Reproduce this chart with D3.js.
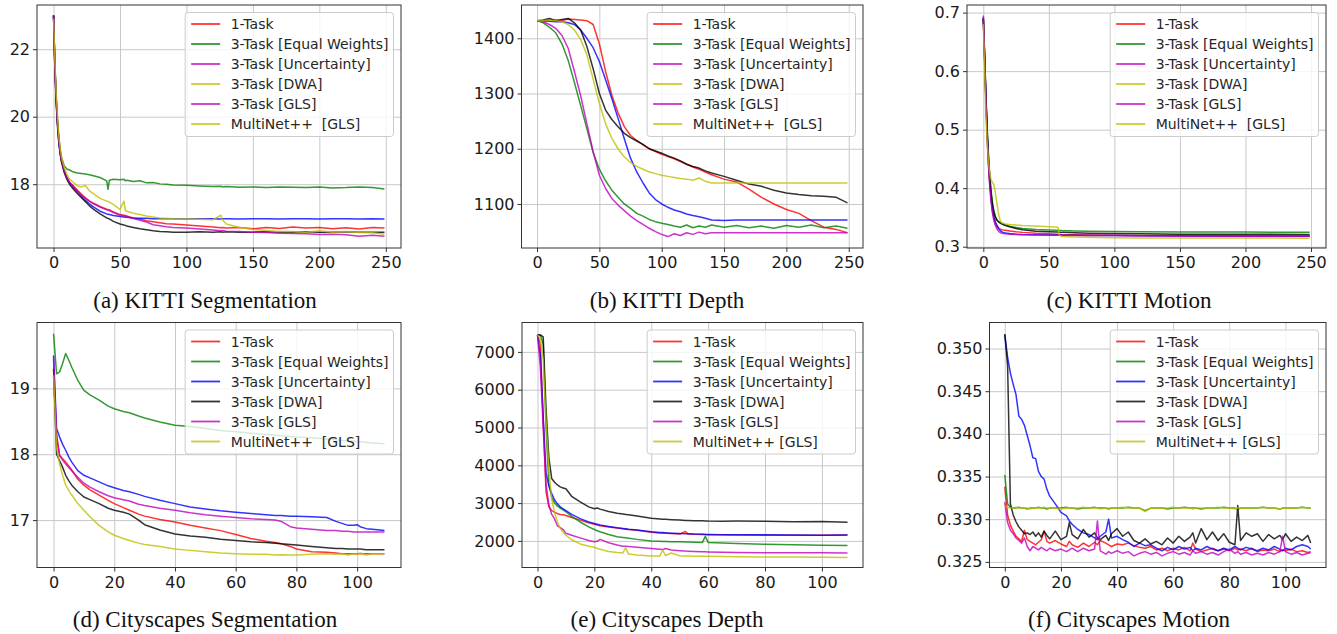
<!DOCTYPE html>
<html>
<head>
<meta charset="utf-8">
<script src="https://cdn.jsdelivr.net/npm/d3@7"></script>
<style>
  body { margin: 0; background: #fff; }
  .tick text { font-family: "DejaVu Sans", sans-serif; font-size: 16px; fill: #1a1a1a; }
  .legend text { font-family: "DejaVu Sans", sans-serif; font-size: 14px; fill: #262626; white-space: pre; }
  .caption { font-family: "Liberation Serif", "Times New Roman", serif; font-size: 23px; fill: #111; }
</style>
</head>
<body>
<svg id="chart" width="1337" height="634"></svg>
<script>
// DATA
const colors = { r: "#ff0000", g: "#008000", b: "#0000ff", k: "#000000", m: "#bf00bf", y: "#bfbf00" };

const labelsTop = ["1-Task", "3-Task [Equal Weights]", "3-Task [Uncertainty]", "3-Task [DWA]", "3-Task [GLS]", "MultiNet++  [GLS]"];
const labelsBottomD = ["1-Task", "3-Task [Equal Weights]", "3-Task [Uncertainty]", "3-Task [DWA]", "3-Task [GLS]", "MultiNet++  [GLS]"];
const labelsBottom = ["1-Task", "3-Task [Equal Weights]", "3-Task [Uncertainty]", "3-Task [DWA]", "3-Task [GLS]", "MultiNet++ [GLS]"];
const legendColorsTop = ["r", "g", "m", "y", "m", "y"];
const legendColorsBottom = ["r", "g", "b", "k", "m", "y"];

// (a) KITTI Segmentation
const aEpochs = [0,1,2,3,4,5,6,8,10,12,15,18,21,24,27,30,35,40,41,42,45,50,53,54,55,60,65,70,75,80,85,90,100,110,120,126,127,130,140,150,160,170,180,190,200,210,220,230,240,249];
const aRed = [23.0,21.5,20.5,19.8,19.3,18.95,18.7,18.4,18.2,18.05,17.95,17.82,17.7,17.6,17.5,17.44,17.34,17.26,17.25,17.24,17.18,17.1,17.08,17.07,17.06,17.0,16.97,16.92,16.89,16.86,16.83,16.82,16.79,16.76,16.73,16.71,16.72,16.7,16.72,16.68,16.72,16.69,16.73,16.7,16.72,16.68,16.71,16.67,16.72,16.7];
const aGreen = [23.0,21.6,20.6,19.9,19.4,19.05,18.8,18.55,18.45,18.42,18.36,18.33,18.32,18.3,18.28,18.25,18.2,18.1,17.85,18.12,18.15,18.13,18.15,18.1,18.12,18.08,18.1,18.04,18.05,18.01,18.0,17.98,17.97,17.95,17.93,17.94,17.92,17.93,17.91,17.92,17.9,17.92,17.91,17.9,17.92,17.89,17.9,17.92,17.9,17.86];
const aBlue = [23.0,21.5,20.5,19.8,19.25,18.9,18.7,18.4,18.2,18.05,17.9,17.78,17.64,17.52,17.42,17.33,17.2,17.12,17.11,17.1,17.07,17.04,17.03,17.02,17.02,17.0,16.99,16.99,16.98,16.98,16.98,16.98,16.97,16.98,16.98,16.97,16.98,16.98,16.97,16.98,16.98,16.97,16.98,16.98,16.97,16.98,16.98,16.97,16.98,16.97];
const aBlack = [23.0,21.4,20.4,19.7,19.2,18.9,18.65,18.35,18.15,18.0,17.85,17.72,17.6,17.48,17.36,17.26,17.12,17.0,16.99,16.97,16.9,16.82,16.79,16.78,16.76,16.72,16.68,16.65,16.62,16.6,16.59,16.58,16.58,16.59,16.58,16.59,16.58,16.59,16.58,16.58,16.59,16.58,16.58,16.59,16.58,16.58,16.59,16.58,16.58,16.58];
const aMagenta = [23.0,21.5,20.5,19.8,19.3,18.95,18.7,18.4,18.2,18.05,17.92,17.8,17.68,17.58,17.5,17.42,17.32,17.24,17.23,17.22,17.16,17.08,17.06,17.05,17.04,16.98,16.93,16.88,16.8,16.77,16.74,16.72,16.7,16.67,16.64,16.62,16.63,16.61,16.6,16.58,16.57,16.55,16.54,16.53,16.51,16.52,16.5,16.46,16.49,16.46];
const aYellow = [22.9,21.7,20.7,20.0,19.4,19.05,18.8,18.5,18.3,18.15,18.05,17.95,17.92,17.96,17.8,17.72,17.58,17.5,17.49,17.47,17.4,17.25,17.5,17.22,17.2,17.14,17.1,17.06,17.03,17.0,16.99,16.98,16.97,16.96,16.95,17.08,16.95,16.82,16.72,16.66,16.63,16.6,16.6,16.58,16.62,16.58,16.6,16.57,16.56,16.52];

// (b) KITTI Depth
const bEpochs = [0,5,10,15,20,25,30,35,40,45,50,55,60,65,70,75,80,85,90,95,100,105,110,115,120,125,130,135,140,150,160,170,180,190,200,210,220,230,240,249];
const bRed = [1432,1430,1434,1433,1432,1435,1434,1433,1432,1425,1390,1340,1297,1265,1240,1224,1215,1207,1200,1195,1190,1186,1182,1177,1172,1167,1163,1158,1153,1145,1140,1127,1112,1100,1090,1083,1070,1058,1054,1048];
const bGreen = [1432,1428,1420,1410,1390,1360,1320,1278,1236,1193,1163,1142,1125,1112,1100,1092,1083,1078,1072,1068,1065,1063,1060,1058,1062,1057,1060,1058,1062,1058,1061,1057,1060,1056,1061,1058,1062,1057,1060,1056];
const bBlue = [1432,1432,1431,1430,1430,1428,1425,1415,1400,1383,1358,1325,1291,1255,1218,1183,1158,1138,1120,1108,1100,1094,1089,1086,1082,1079,1077,1074,1071,1070,1071,1071,1071,1071,1071,1071,1071,1071,1071,1071];
const bBlack = [1432,1433,1436,1432,1434,1436,1428,1415,1385,1345,1300,1270,1253,1240,1228,1220,1214,1208,1200,1196,1192,1187,1183,1178,1172,1168,1165,1160,1156,1150,1143,1136,1132,1125,1120,1117,1115,1114,1112,1102];
const bMagenta = [1432,1430,1425,1418,1405,1382,1340,1296,1245,1195,1152,1128,1110,1098,1088,1078,1070,1063,1056,1050,1045,1041,1046,1043,1048,1045,1049,1046,1048,1048,1048,1048,1048,1048,1048,1048,1048,1048,1048,1048];
const bYellow = [1432,1432,1433,1432,1430,1425,1415,1398,1370,1326,1282,1245,1219,1200,1185,1175,1168,1163,1158,1155,1152,1150,1148,1146,1145,1143,1147,1141,1138,1138,1138,1138,1138,1138,1138,1138,1138,1138,1138,1138];

// (c) KITTI Motion
const cEpochs = [0,1,2,3,4,5,6,7,8,9,10,11,12,13,14,15,17,20,25,30,40,50,56,57,58,60,70,80,100,120,150,200,249];
const cRed = [0.690,0.62,0.55,0.49,0.445,0.41,0.385,0.365,0.352,0.343,0.337,0.333,0.331,0.330,0.329,0.3285,0.328,0.327,0.3255,0.3245,0.323,0.322,0.3215,0.3215,0.3212,0.321,0.3205,0.32,0.3195,0.319,0.319,0.3185,0.3185];
const cGreen = [0.690,0.630,0.560,0.500,0.455,0.420,0.395,0.375,0.362,0.353,0.347,0.344,0.342,0.341,0.340,0.339,0.337,0.335,0.333,0.331,0.3295,0.3285,0.328,0.328,0.3278,0.3275,0.327,0.3265,0.326,0.3255,0.3252,0.325,0.3248];
const cBlue = [0.692,0.62,0.55,0.49,0.44,0.405,0.38,0.36,0.35,0.343,0.338,0.334,0.33,0.327,0.3255,0.3245,0.3235,0.3225,0.3215,0.321,0.3205,0.32,0.32,0.32,0.32,0.3198,0.3195,0.3193,0.319,0.3188,0.3185,0.3182,0.318];
const cBlack = [0.690,0.625,0.555,0.495,0.45,0.415,0.39,0.372,0.36,0.352,0.347,0.344,0.342,0.340,0.339,0.338,0.336,0.334,0.331,0.329,0.3265,0.3255,0.325,0.325,0.3248,0.3245,0.324,0.3232,0.3225,0.322,0.3215,0.3212,0.321];
const cMagenta = [0.695,0.625,0.545,0.48,0.435,0.4,0.375,0.357,0.345,0.337,0.332,0.328,0.3255,0.324,0.323,0.3225,0.322,0.3215,0.321,0.3205,0.32,0.3198,0.3196,0.3196,0.3195,0.3195,0.3193,0.3192,0.319,0.3186,0.3182,0.318,0.3178];
const cYellow = [0.680,0.60,0.525,0.475,0.445,0.425,0.414,0.41,0.406,0.395,0.38,0.365,0.352,0.344,0.341,0.34,0.339,0.338,0.337,0.3362,0.3352,0.334,0.3335,0.333,0.319,0.3175,0.3165,0.316,0.3155,0.315,0.315,0.3148,0.3145];

// (d) Cityscapes Segmentation
const dEpochs = [0,1,2,3,4,5,6,8,10,12,15,18,20,23,25,28,30,35,40,45,50,55,60,65,70,73,75,78,80,85,90,93,95,97,99,100,101,103,105,109];
const dRed = [19.2,18.3,17.98,17.93,17.88,17.82,17.76,17.62,17.53,17.46,17.38,17.3,17.25,17.19,17.15,17.09,17.06,17.01,16.97,16.92,16.88,16.84,16.78,16.72,16.68,16.66,16.64,16.6,16.56,16.52,16.51,16.5,16.49,16.49,16.49,16.49,16.49,16.49,16.49,16.49];
const dGreen = [19.83,19.22,19.25,19.38,19.53,19.43,19.32,19.12,18.97,18.9,18.82,18.73,18.69,18.65,18.63,18.58,18.55,18.49,18.44,18.42,18.39,18.36,18.34,18.32,18.3,18.29,18.28,18.27,18.26,18.25,18.23,18.22,18.21,18.2,18.2,18.19,18.19,18.18,18.17,18.16];
const dBlue = [19.5,18.39,18.26,18.15,18.06,17.96,17.88,17.75,17.68,17.64,17.58,17.52,17.49,17.45,17.43,17.39,17.36,17.3,17.25,17.2,17.17,17.14,17.12,17.1,17.08,17.07,17.07,17.06,17.06,17.05,17.04,16.98,16.95,16.92,16.92,16.93,16.9,16.87,16.86,16.84];
const dBlack = [19.3,18.0,17.9,17.8,17.68,17.6,17.53,17.43,17.35,17.31,17.25,17.18,17.15,17.12,17.09,17.0,16.93,16.85,16.79,16.76,16.74,16.71,16.69,16.67,16.66,16.65,16.64,16.63,16.62,16.6,16.58,16.57,16.57,16.56,16.56,16.56,16.56,16.55,16.55,16.55];
const dMagenta = [19.45,18.25,17.98,17.91,17.85,17.8,17.75,17.65,17.56,17.5,17.43,17.37,17.34,17.31,17.29,17.24,17.22,17.18,17.15,17.11,17.08,17.06,17.04,17.02,17.01,17.0,16.98,16.9,16.88,16.86,16.84,16.84,16.83,16.83,16.82,16.82,16.82,16.82,16.82,16.82];
const dYellow = [19.2,18.1,17.85,17.68,17.53,17.45,17.38,17.25,17.15,17.05,16.92,16.82,16.77,16.72,16.69,16.65,16.63,16.6,16.56,16.54,16.52,16.5,16.49,16.48,16.48,16.47,16.475,16.47,16.47,16.48,16.49,16.48,16.49,16.47,16.49,16.48,16.5,16.47,16.49,16.49];

// (e) Cityscapes Depth
const eEpochs = [0,1,2,3,4,5,6,7,8,9,10,12,15,18,20,21,22,25,28,30,31,32,35,40,43,44,45,47,50,52,53,55,58,59,60,65,70,80,90,100,109];
const eRed = [7450,7200,5200,3300,2900,2800,2760,2720,2700,2690,2670,2620,2550,2480,2440,2420,2400,2370,2340,2320,2310,2300,2280,2230,2210,2205,2200,2195,2180,2250,2180,2175,2170,2170,2165,2160,2155,2150,2150,2150,2155];
const eGreen = [7450,7450,7200,5000,3500,3150,3000,2920,2870,2820,2770,2650,2500,2370,2300,2270,2240,2170,2110,2090,2080,2070,2040,2000,1990,1985,1982,1978,1974,1970,1968,1965,1960,2120,1960,1945,1930,1912,1898,1886,1875];
const eBlue = [7450,6900,5300,3800,3450,3250,3080,2980,2900,2850,2800,2700,2590,2500,2460,2440,2420,2380,2345,2330,2320,2310,2290,2240,2225,2220,2215,2205,2195,2190,2188,2180,2175,2172,2170,2165,2160,2160,2155,2150,2155];
const eBlack = [7450,7450,7400,5500,4200,3650,3550,3480,3430,3400,3380,3180,3030,2900,2850,2870,2840,2780,2730,2710,2700,2690,2660,2600,2580,2575,2570,2560,2550,2540,2540,2535,2530,2528,2525,2520,2525,2520,2505,2510,2495];
const eMagenta = [7450,6600,5000,3500,2950,2700,2580,2400,2350,2300,2200,2150,2080,2010,1975,1990,2040,1950,1890,1860,1855,1850,1830,1800,1780,1770,1800,1760,1740,1730,1728,1720,1712,1710,1708,1700,1695,1685,1683,1685,1680];
const eYellow = [7450,7350,6800,5200,3900,3100,2750,2500,2330,2230,2150,2030,1920,1860,1830,1800,1780,1720,1690,1680,1820,1650,1625,1600,1600,1760,1610,1680,1605,1600,1598,1595,1595,1592,1595,1585,1580,1575,1572,1568,1560];

// (f) Cityscapes Motion
const fEpochs = [0,1,2,3,4,5,6,7,8,9,10,11,12,13,14,15,16,18,20,22,23,24,26,28,30,32,33,34,36,37,38,40,42,44,46,48,50,52,54,56,58,60,62,64,66,67,68,70,72,74,76,78,80,82,83,84,86,88,90,92,94,96,98,99,100,102,104,106,108,109];
const fRed = [0.3338,0.3305,0.3293,0.3286,0.3280,0.3277,0.3274,0.3287,0.3276,0.3274,0.3272,0.3270,0.3273,0.3276,0.3286,0.3274,0.3272,0.3275,0.3271,0.3268,0.3274,0.3270,0.3267,0.3272,0.3268,0.3273,0.3270,0.3275,0.3272,0.3270,0.3268,0.3271,0.3270,0.3272,0.3269,0.3267,0.3266,0.3268,0.3264,0.3266,0.3263,0.3266,0.3264,0.3267,0.3263,0.3272,0.3265,0.3262,0.3264,0.3266,0.3263,0.3265,0.3263,0.3266,0.3264,0.3265,0.3263,0.3266,0.3262,0.3264,0.3263,0.3265,0.3262,0.3264,0.3263,0.3265,0.3262,0.3263,0.3261,0.3262];
const fGreen = [0.3352,0.3318,0.3314,0.3313,0.3313,0.3314,0.3313,0.3313,0.3312,0.3313,0.3313,0.3313,0.3314,0.3313,0.3313,0.3312,0.3313,0.3313,0.3313,0.3314,0.3313,0.3313,0.3312,0.3313,0.3313,0.3314,0.3313,0.3313,0.3313,0.3312,0.3313,0.3313,0.3313,0.3314,0.3313,0.3313,0.3310,0.3313,0.3313,0.3313,0.3312,0.3313,0.3313,0.3314,0.3313,0.3313,0.3313,0.3312,0.3313,0.3313,0.3313,0.3314,0.3313,0.3313,0.3312,0.3313,0.3313,0.3313,0.3313,0.3314,0.3313,0.3313,0.3312,0.3313,0.3313,0.3313,0.3313,0.3314,0.3313,0.3313];
const fBlue = [0.3516,0.3490,0.3471,0.3458,0.3446,0.3421,0.3417,0.3410,0.3398,0.3386,0.3372,0.3371,0.3356,0.3350,0.3347,0.3335,0.3327,0.3318,0.3308,0.3304,0.3298,0.3294,0.3288,0.3284,0.3282,0.3278,0.3276,0.3280,0.3285,0.3300,0.3278,0.3280,0.3276,0.3273,0.3268,0.3272,0.3269,0.3270,0.3266,0.3263,0.3267,0.3264,0.3268,0.3265,0.3267,0.3263,0.3266,0.3264,0.3268,0.3265,0.3263,0.3266,0.3264,0.3268,0.3266,0.3264,0.3267,0.3265,0.3263,0.3266,0.3264,0.3268,0.3265,0.3263,0.3266,0.3264,0.3268,0.3270,0.3268,0.3265];
const fBlack = [0.3517,0.3480,0.3318,0.3305,0.3297,0.3291,0.3287,0.3283,0.3284,0.3282,0.3285,0.3280,0.3284,0.3279,0.3286,0.3281,0.3277,0.3286,0.3276,0.3280,0.3296,0.3282,0.3277,0.3288,0.3279,0.3284,0.3278,0.3276,0.3281,0.3275,0.3283,0.3289,0.3280,0.3285,0.3275,0.3272,0.3277,0.3271,0.3274,0.3270,0.3278,0.3272,0.3280,0.3274,0.3279,0.3284,0.3272,0.3289,0.3276,0.3285,0.3275,0.3283,0.3273,0.3270,0.3316,0.3275,0.3284,0.3280,0.3283,0.3274,0.3282,0.3277,0.3281,0.3276,0.3283,0.3274,0.3279,0.3275,0.3281,0.3272];
const fMagenta = [0.3320,0.3296,0.3287,0.3283,0.3278,0.3275,0.3272,0.3278,0.3268,0.3263,0.3268,0.3266,0.3264,0.3267,0.3265,0.3263,0.3266,0.3263,0.3265,0.3262,0.3264,0.3266,0.3262,0.3266,0.3263,0.3265,0.3298,0.3263,0.3259,0.3262,0.3260,0.3263,0.3260,0.3262,0.3257,0.3260,0.3262,0.3259,0.3261,0.3257,0.3260,0.3262,0.3259,0.3261,0.3258,0.3263,0.3260,0.3262,0.3259,0.3261,0.3258,0.3262,0.3265,0.3260,0.3262,0.3259,0.3261,0.3258,0.3260,0.3258,0.3261,0.3259,0.3262,0.3280,0.3262,0.3259,0.3261,0.3258,0.3260,0.3261];
const fYellow = [0.3315,0.3314,0.3313,0.3313,0.3314,0.3313,0.3313,0.3313,0.3313,0.3312,0.3313,0.3313,0.3313,0.3313,0.3314,0.3313,0.3313,0.3313,0.3312,0.3313,0.3313,0.3313,0.3313,0.3314,0.3313,0.3313,0.3313,0.3312,0.3313,0.3313,0.3313,0.3313,0.3314,0.3313,0.3313,0.3313,0.3309,0.3313,0.3313,0.3313,0.3313,0.3314,0.3313,0.3313,0.3313,0.3312,0.3313,0.3313,0.3313,0.3313,0.3314,0.3313,0.3313,0.3312,0.3313,0.3313,0.3313,0.3313,0.3313,0.3314,0.3313,0.3313,0.3312,0.3313,0.3313,0.3313,0.3313,0.3314,0.3313,0.3313];

const xTicksKitti = [0, 50, 100, 150, 200, 250];
const xTicksCity = [0, 20, 40, 60, 80, 100];

// PANEL LAYOUT
const panels = [
  { box: [37, 401, 5, 248], xd: [-12.45, 261.45], yd: [16.11, 23.31], xt: xTicksKitti, yt: [18, 20, 22], fmt: d3.format("d"),
    x: aEpochs, series: [aRed, aGreen, aBlue, aBlack, aMagenta, aYellow],
    labels: labelsTop, lc: legendColorsTop, caption: "(a) KITTI Segmentation", cx: 205, cy: 308 },
  { box: [521.5, 863, 5, 248], xd: [-12.45, 261.45], yd: [1020.3, 1460.3], xt: xTicksKitti, yt: [1100, 1200, 1300, 1400], fmt: d3.format("d"),
    x: bEpochs, series: [bRed, bGreen, bBlue, bBlack, bMagenta, bYellow],
    labels: labelsTop, lc: legendColorsTop, caption: "(b) KITTI Depth", cx: 667, cy: 308 },
  { box: [967, 1326, 5, 248], xd: [-12.45, 261.45], yd: [0.2978, 0.713], xt: xTicksKitti, yt: [0.3, 0.4, 0.5, 0.6, 0.7], fmt: d3.format(".1f"),
    x: cEpochs, series: [cRed, cGreen, cBlue, cBlack, cMagenta, cYellow],
    labels: labelsTop, lc: legendColorsTop, caption: "(c) KITTI Motion", cx: 1129, cy: 308 },
  { box: [37, 401, 322.5, 567.5], xd: [-5.45, 114.45], yd: [16.28, 20.0], xt: xTicksCity, yt: [17, 18, 19], fmt: d3.format("d"),
    x: dEpochs, series: [dRed, dGreen, dBlue, dBlack, dMagenta, dYellow],
    labels: labelsBottomD, lc: legendColorsBottom, caption: "(d) Cityscapes Segmentation", cx: 205, cy: 627 },
  { box: [522, 863, 322.5, 567.5], xd: [-5.45, 114.45], yd: [1296, 7778], xt: xTicksCity, yt: [2000, 3000, 4000, 5000, 6000, 7000], fmt: d3.format("d"),
    x: eEpochs, series: [eRed, eGreen, eBlue, eBlack, eMagenta, eYellow],
    labels: labelsBottom, lc: legendColorsBottom, caption: "(e) Cityscapes Depth", cx: 667, cy: 627 },
  { box: [989.5, 1326, 322.5, 567.5], xd: [-5.45, 114.45], yd: [0.32434, 0.35305], xt: xTicksCity, yt: [0.325, 0.330, 0.335, 0.340, 0.345, 0.350], fmt: d3.format(".3f"),
    x: fEpochs, series: [fRed, fGreen, fBlue, fBlack, fMagenta, fYellow],
    labels: labelsBottom, lc: legendColorsBottom, caption: "(f) Cityscapes Motion", cx: 1129, cy: 627 }
];
const seriesColors = ["r", "g", "b", "k", "m", "y"];

const svg = d3.select("#chart");

panels.forEach(p => {
  const [L, R, T, B] = p.box;
  const xScale = d3.scaleLinear().domain(p.xd).range([L, R]);
  const yScale = d3.scaleLinear().domain(p.yd).range([B, T]);
  const g = svg.append("g");

  // grid
  g.append("g")
    .attr("transform", `translate(0,${B})`)
    .call(d3.axisBottom(xScale).tickValues(p.xt).tickSize(-(B - T)).tickFormat(""))
    .call(s => s.select(".domain").remove())
    .selectAll("line").attr("stroke", "#c8c8c8").attr("stroke-width", 1);
  g.append("g")
    .attr("transform", `translate(${L},0)`)
    .call(d3.axisLeft(yScale).tickValues(p.yt).tickSize(-(R - L)).tickFormat(""))
    .call(s => s.select(".domain").remove())
    .selectAll("line").attr("stroke", "#c8c8c8").attr("stroke-width", 1);

  // lines
  const line = d3.line()
    .x((d, i) => xScale(p.x[i]))
    .y(d => yScale(d));
  p.series.forEach((vals, i) => {
    g.append("path")
      .datum(vals)
      .attr("d", line)
      .attr("fill", "none")
      .attr("stroke", colors[seriesColors[i]])
      .attr("stroke-opacity", 0.8)
      .attr("stroke-width", 1.5)
      .attr("stroke-linejoin", "round");
  });

  // axes
  const xAxis = g.append("g")
    .attr("transform", `translate(0,${B})`)
    .call(d3.axisBottom(xScale).tickValues(p.xt).tickSize(4).tickPadding(5));
  const yAxis = g.append("g")
    .attr("transform", `translate(${L},0)`)
    .call(d3.axisLeft(yScale).tickValues(p.yt).tickSize(4).tickPadding(3).tickFormat(p.fmt));
  [xAxis, yAxis].forEach(a => {
    a.select(".domain").remove();
    a.selectAll("line").attr("stroke", "#333");
  });

  // frame
  g.append("rect")
    .attr("x", L).attr("y", T).attr("width", R - L).attr("height", B - T)
    .attr("fill", "none").attr("stroke", "#333").attr("stroke-width", 1);

  // legend
  const lg = g.append("g").attr("class", "legend");
  const box = lg.append("rect")
    .attr("rx", 3).attr("ry", 3)
    .attr("fill", "#fff").attr("fill-opacity", 0.8)
    .attr("stroke", "#cccccc").attr("stroke-width", 1);
  const items = lg.selectAll(".item")
    .data(p.labels)
    .join("g")
    .attr("class", "item");
  items.append("line")
    .attr("x1", 6).attr("x2", 35)
    .attr("y1", (d, i) => 11.5 + i * 20).attr("y2", (d, i) => 11.5 + i * 20)
    .attr("stroke", (d, i) => colors[p.lc[i]])
    .attr("stroke-opacity", 0.8)
    .attr("stroke-width", 1.8);
  items.append("text")
    .attr("x", 45.5)
    .attr("y", (d, i) => 11.5 + i * 20)
    .attr("dy", "0.36em")
    .text(d => d);
  let maxW = 0;
  items.selectAll("text").each(function () { maxW = Math.max(maxW, this.getComputedTextLength()); });
  const bw = 45.5 + maxW + 5;
  box.attr("x", 0).attr("y", 0).attr("width", bw).attr("height", 124);
  lg.attr("transform", `translate(${R - 7.5 - bw},${T + 7.5})`);

  // caption
  svg.append("text")
    .attr("class", "caption")
    .attr("x", p.cx)
    .attr("y", p.cy)
    .attr("text-anchor", "middle")
    .text(p.caption);
});
</script>
</body>
</html>
